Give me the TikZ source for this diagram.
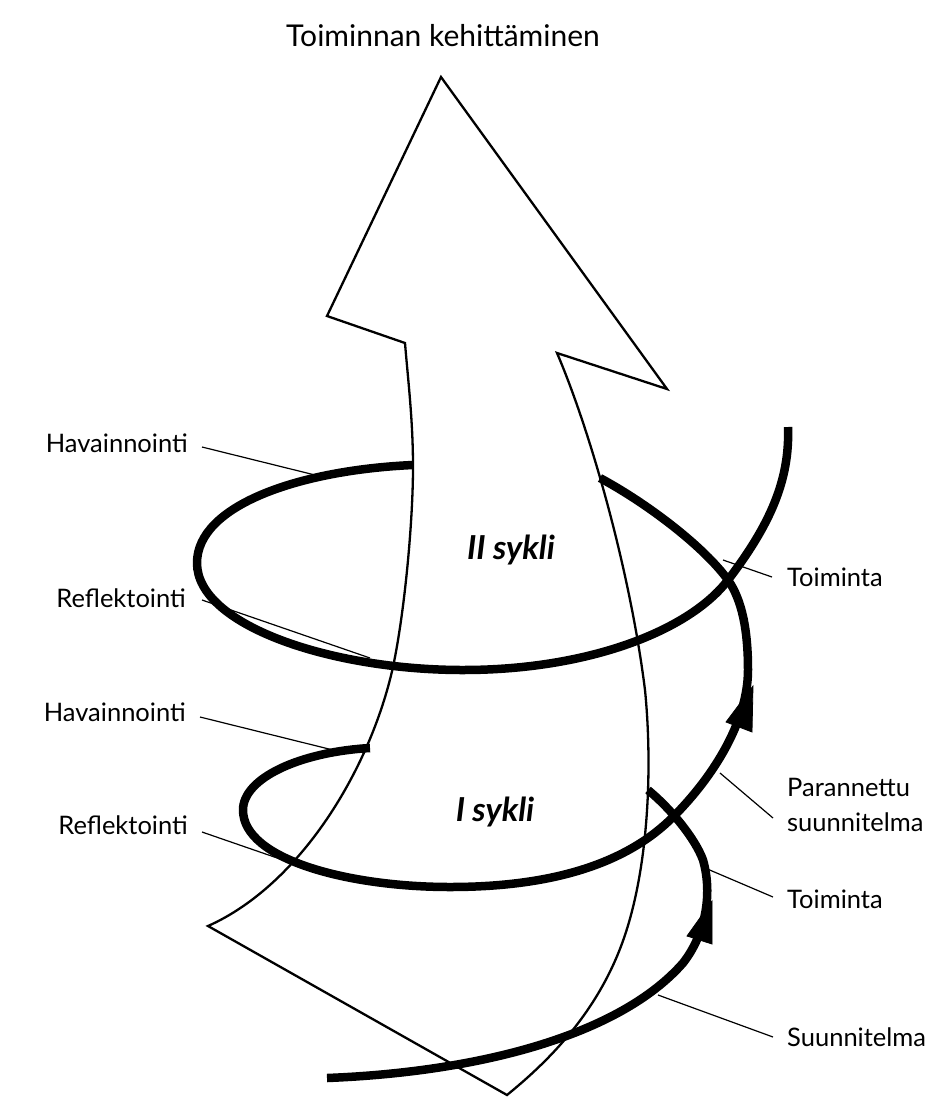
\documentclass[tikz,border=0pt]{standalone}
\usepackage{fontspec}
\setmainfont{Lato}
\begin{document}
\begin{tikzpicture}[x=1pt,y=-1pt,
  spiral/.style={line width=8.5pt, line cap=butt, line join=round},
  bigarrow/.style={line width=2.3pt, line join=miter, fill=white},
  ptr/.style={line width=1.2pt},
  lbl/.style={font=\fontsize{25.5}{35}\selectfont, inner sep=0pt},
  cyc/.style={font=\fontsize{33}{36}\selectfont\bfseries\itshape, inner sep=0pt},
  head/.style={fill=black, draw=black, line width=0.8pt, line join=miter}]
\useasboundingbox (0,0) rectangle (946,1104);

% title
\node[font=\fontsize{30}{36}\selectfont, inner sep=0pt] (title) at (443,36) {Toiminnan kehittäminen};

% big arrow
\path[bigarrow, draw] (441,77) -- (667,389) -- (557,353)
  .. controls (590,430) and (630,570) .. (645,690)
  .. controls (652,760) and (650,860) .. (625,935)
  .. controls (600,1010) and (550,1060) .. (507,1095)
  -- (208,926)
  .. controls (300,885) and (370,770) .. (393,667)
  .. controls (405,610) and (413,520) .. (413,467)
  .. controls (413,420) and (408,380) .. (405,343)
  -- (327,316) -- cycle;

% labels
\node[lbl, anchor=east] (hav2) at (188,443) {Havainnointi};
\node[lbl, anchor=east] (ref2) at (186,598) {Reflektointi};
\node[lbl, anchor=east] (hav1) at (186,712) {Havainnointi};
\node[lbl, anchor=east] (ref1) at (188,825) {Reflektointi};
\node[lbl, anchor=west] (toi2) at (787,577) {Toiminta};
\node[lbl, anchor=west, align=left] (par) at (787,805) {Parannettu\\suunnitelma};
\node[lbl, anchor=west] (toi1) at (787,899) {Toiminta};
\node[lbl, anchor=west] (suu) at (787,1037) {Suunnitelma};

\node[cyc] (c2) at (511,550) {II sykli};
\node[cyc] (c1) at (495,812) {I sykli};

% pointer targets
\coordinate (phav2) at (315,475);
\coordinate (pref2) at (370,658);
\coordinate (phav1) at (333,750);
\coordinate (pref1) at (283,860);
\coordinate (ptoi2) at (723,560);
\coordinate (ppar) at (720,773);
\coordinate (ptoi1) at (705,868);
\coordinate (psuu) at (658,995);

\draw[ptr] ([xshift=14pt,yshift=-4pt]hav2.east) -- (phav2);
\draw[ptr] ([xshift=16pt,yshift=-2pt]ref2.east) -- (pref2);
\draw[ptr] ([xshift=14pt,yshift=-5pt]hav1.east) -- (phav1);
\draw[ptr] ([xshift=14pt,yshift=-7pt]ref1.east) -- (pref1);
\draw[ptr] ([xshift=-15pt]toi2.west) -- (ptoi2);
\draw[ptr] ([xshift=-14pt,yshift=-13pt]par.west) -- (ppar);
\draw[ptr] ([xshift=-14pt,yshift=2pt]toi1.west) -- (ptoi1);
\draw[ptr] ([xshift=-14pt]suu.west) -- (psuu);

% spiral (visible pieces)
\draw[spiral] (327,1078)
  .. controls (480,1072) and (620,1035) .. (683,963)
  .. controls (705,935) and (713,895) .. (703,860)
  .. controls (695,838) and (670,808) .. (648,790);
\draw[spiral] (370,748)
  .. controls (300,752) and (243,778) .. (243,810)
  .. controls (243,860) and (350,887) .. (450,887)
  .. controls (560,887) and (630,860) .. (673,817)
  .. controls (715,775) and (748,720) .. (748,670)
  .. controls (748,630) and (742,600) .. (728,580)
  .. controls (705,548) and (650,505) .. (600,478);
\draw[spiral] (413,465)
  .. controls (300,470) and (197,505) .. (197,563)
  .. controls (197,625) and (330,670) .. (463,670)
  .. controls (590,670) and (690,630) .. (728,580)
  .. controls (770,525) and (790,480) .. (788,427);

% arrowheads
\path[head] (753,686) -- (726,722) -- (752,732) -- cycle;
\path[head] (712,901) -- (687,936) -- (712,944) -- cycle;
\end{tikzpicture}
\end{document}
